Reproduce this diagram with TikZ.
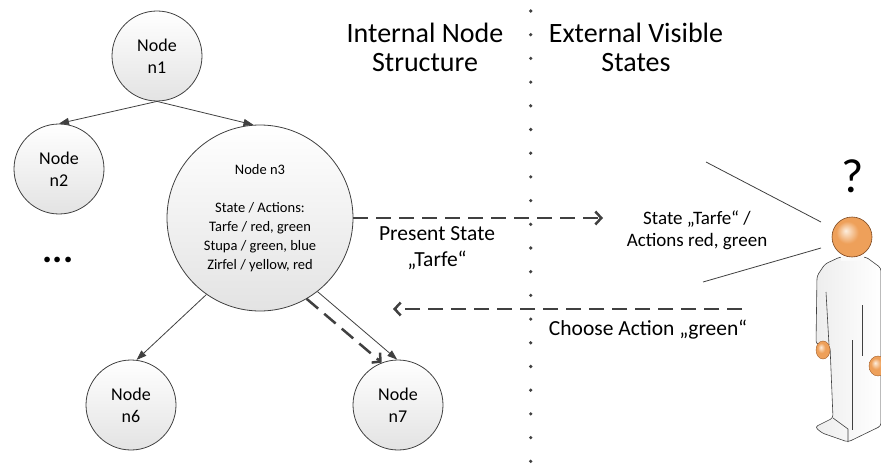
\documentclass[tikz,border=0pt]{standalone}
\usepackage{fontspec}
\setmainfont{Carlito}
\usetikzlibrary{arrows.meta,positioning}
\definecolor{linegray}{RGB}{64,64,64}
\definecolor{skin}{RGB}{238,160,90}
\definecolor{skinlight}{RGB}{253,238,222}
\definecolor{skindark}{RGB}{205,120,55}
\pgfdeclareradialshading{skinball}{\pgfpoint{-8bp}{8bp}}{%
    color(0bp)=(skinlight); color(14bp)=(skin); color(34bp)=(skin); color(46bp)=(skindark); color(50bp)=(skindark)}

\begin{document}
\begin{tikzpicture}[
    x=1pt, y=-1pt,
    treenode/.style={circle, draw=linegray, line width=0.8pt, top color=white, bottom color=gray!22, minimum size=90pt, inner sep=0pt, align=center, font=\fontsize{18}{22}\selectfont},
    bignode/.style={treenode, minimum size=186pt, font=\fontsize{14.5}{19}\selectfont},
    treeedge/.style={draw=linegray, line width=0.8pt, -{Triangle[length=10pt,width=7pt]}},
    flow/.style={draw=linegray, line width=2.5pt, dash pattern=on 15pt off 8pt, -{Straight Barb[length=6pt,width=13pt]}},
    heading/.style={align=center, font=\fontsize{28}{28.5}\selectfont},
    msg/.style={align=center, font=\fontsize{21.5}{26.5}\selectfont}
]
    \useasboundingbox (0,0) rectangle (881,468);

    % the node tree
    \node[treenode] (n1) at (157,56)  {Node\\n1};
    \node[treenode] (n2) at (59,169)  {Node\\n2};
    \node[bignode]  (n3) at (260,218) {Node n3\\[19pt]State / Actions:\\Tarfe / red, green\\Stupa / green, blue\\Zirfel / yellow, red};
    \node[treenode] (n6) at (131,405) {Node\\n6};
    \node[treenode] (n7) at (398,405) {Node\\n7};
    \node[font=\fontsize{38}{40}\selectfont\bfseries, anchor=base] (more) at (58,262) {...};

    \draw[treeedge] (n1.south) -- (n2.north);
    \draw[treeedge] (n1.south) -- (n3.94);
    \draw[treeedge] (n3.-125) -- (n6.83);
    \draw[treeedge] (n3.-52) -- (n7.91);
    \draw[flow] (n3.-60) -- (n7.111);

    % dotted border between the two sides
    \foreach \k in {0,...,19}
        \fill[linegray] (530.7, 11+23.7*\k) circle (1.8pt);

    \node[heading] (inner) at (425,47.5) {Internal Node\\Structure};
    \node[heading] (outer) at (636,47.5) {External Visible\\States};

    % what goes over the border
    \coordinate (present tip) at (603,218);
    \coordinate (choose start) at (742,309);
    \coordinate (choose tip) at (393,309);
    \draw[flow] (n3.east) -- (present tip);
    \draw[flow] (choose start) -- (choose tip);
    \node[msg] (present) at (437,248) {Present State\\„Tarfe“};
    \node[msg, anchor=base] (choose) at (648,335) {Choose Action „green“};
    \node[msg, font=\fontsize{19}{22}\selectfont] (state) at (697,230) {State „Tarfe“ /\\Actions red, green};

    % the user
    \coordinate (view top) at (706,162);
    \coordinate (eye top) at (821,222);
    \coordinate (view low) at (703,282);
    \coordinate (eye low) at (821,248);
    \draw[linegray, line width=0.8pt] (view top) -- (eye top);
    \draw[linegray, line width=0.8pt] (view low) -- (eye low);
    \node[font=\fontsize{48}{50}\selectfont, anchor=base] (ask) at (853,192) {?};

    \begin{scope}[draw=gray!50!black, line width=0.6pt]
        \draw[left color=gray!14, right color=white, rounded corners=3pt]
            (825,264) -- (817,276) -- (816,344) -- (830,346) -- (833,418) -- (815,427)
            -- (822,433) -- (848,442) -- (881,426) -- (881,268) -- (866,257) -- (840,257) -- cycle;
        \draw (826,292) -- (829,345);
        \draw (862,305) -- (862,356);
        \draw (852,340) -- (852,430);
        \draw (833,418) -- (848,429) -- (848,442);
        \shade[shading=skinball] (823,350) ellipse (7pt and 9pt);
        \draw[skindark!80!black, line width=0.4pt] (823,350) ellipse (7pt and 9pt);
        \shade[shading=skinball] (878,366) ellipse (9pt and 10pt);
        \draw[skindark!80!black, line width=0.4pt] (878,366) ellipse (9pt and 10pt);
        \fill[white!96!gray] (841,252) rectangle (864,261);
        \draw[red!80!black, line width=0.8pt] (842,254) to[bend right=25] (862,254);
        \shade[shading=skinball] (852,237) circle (20pt);
        \draw[skindark!60!black] (852,237) circle (20pt);
    \end{scope}
\end{tikzpicture}
\end{document}
